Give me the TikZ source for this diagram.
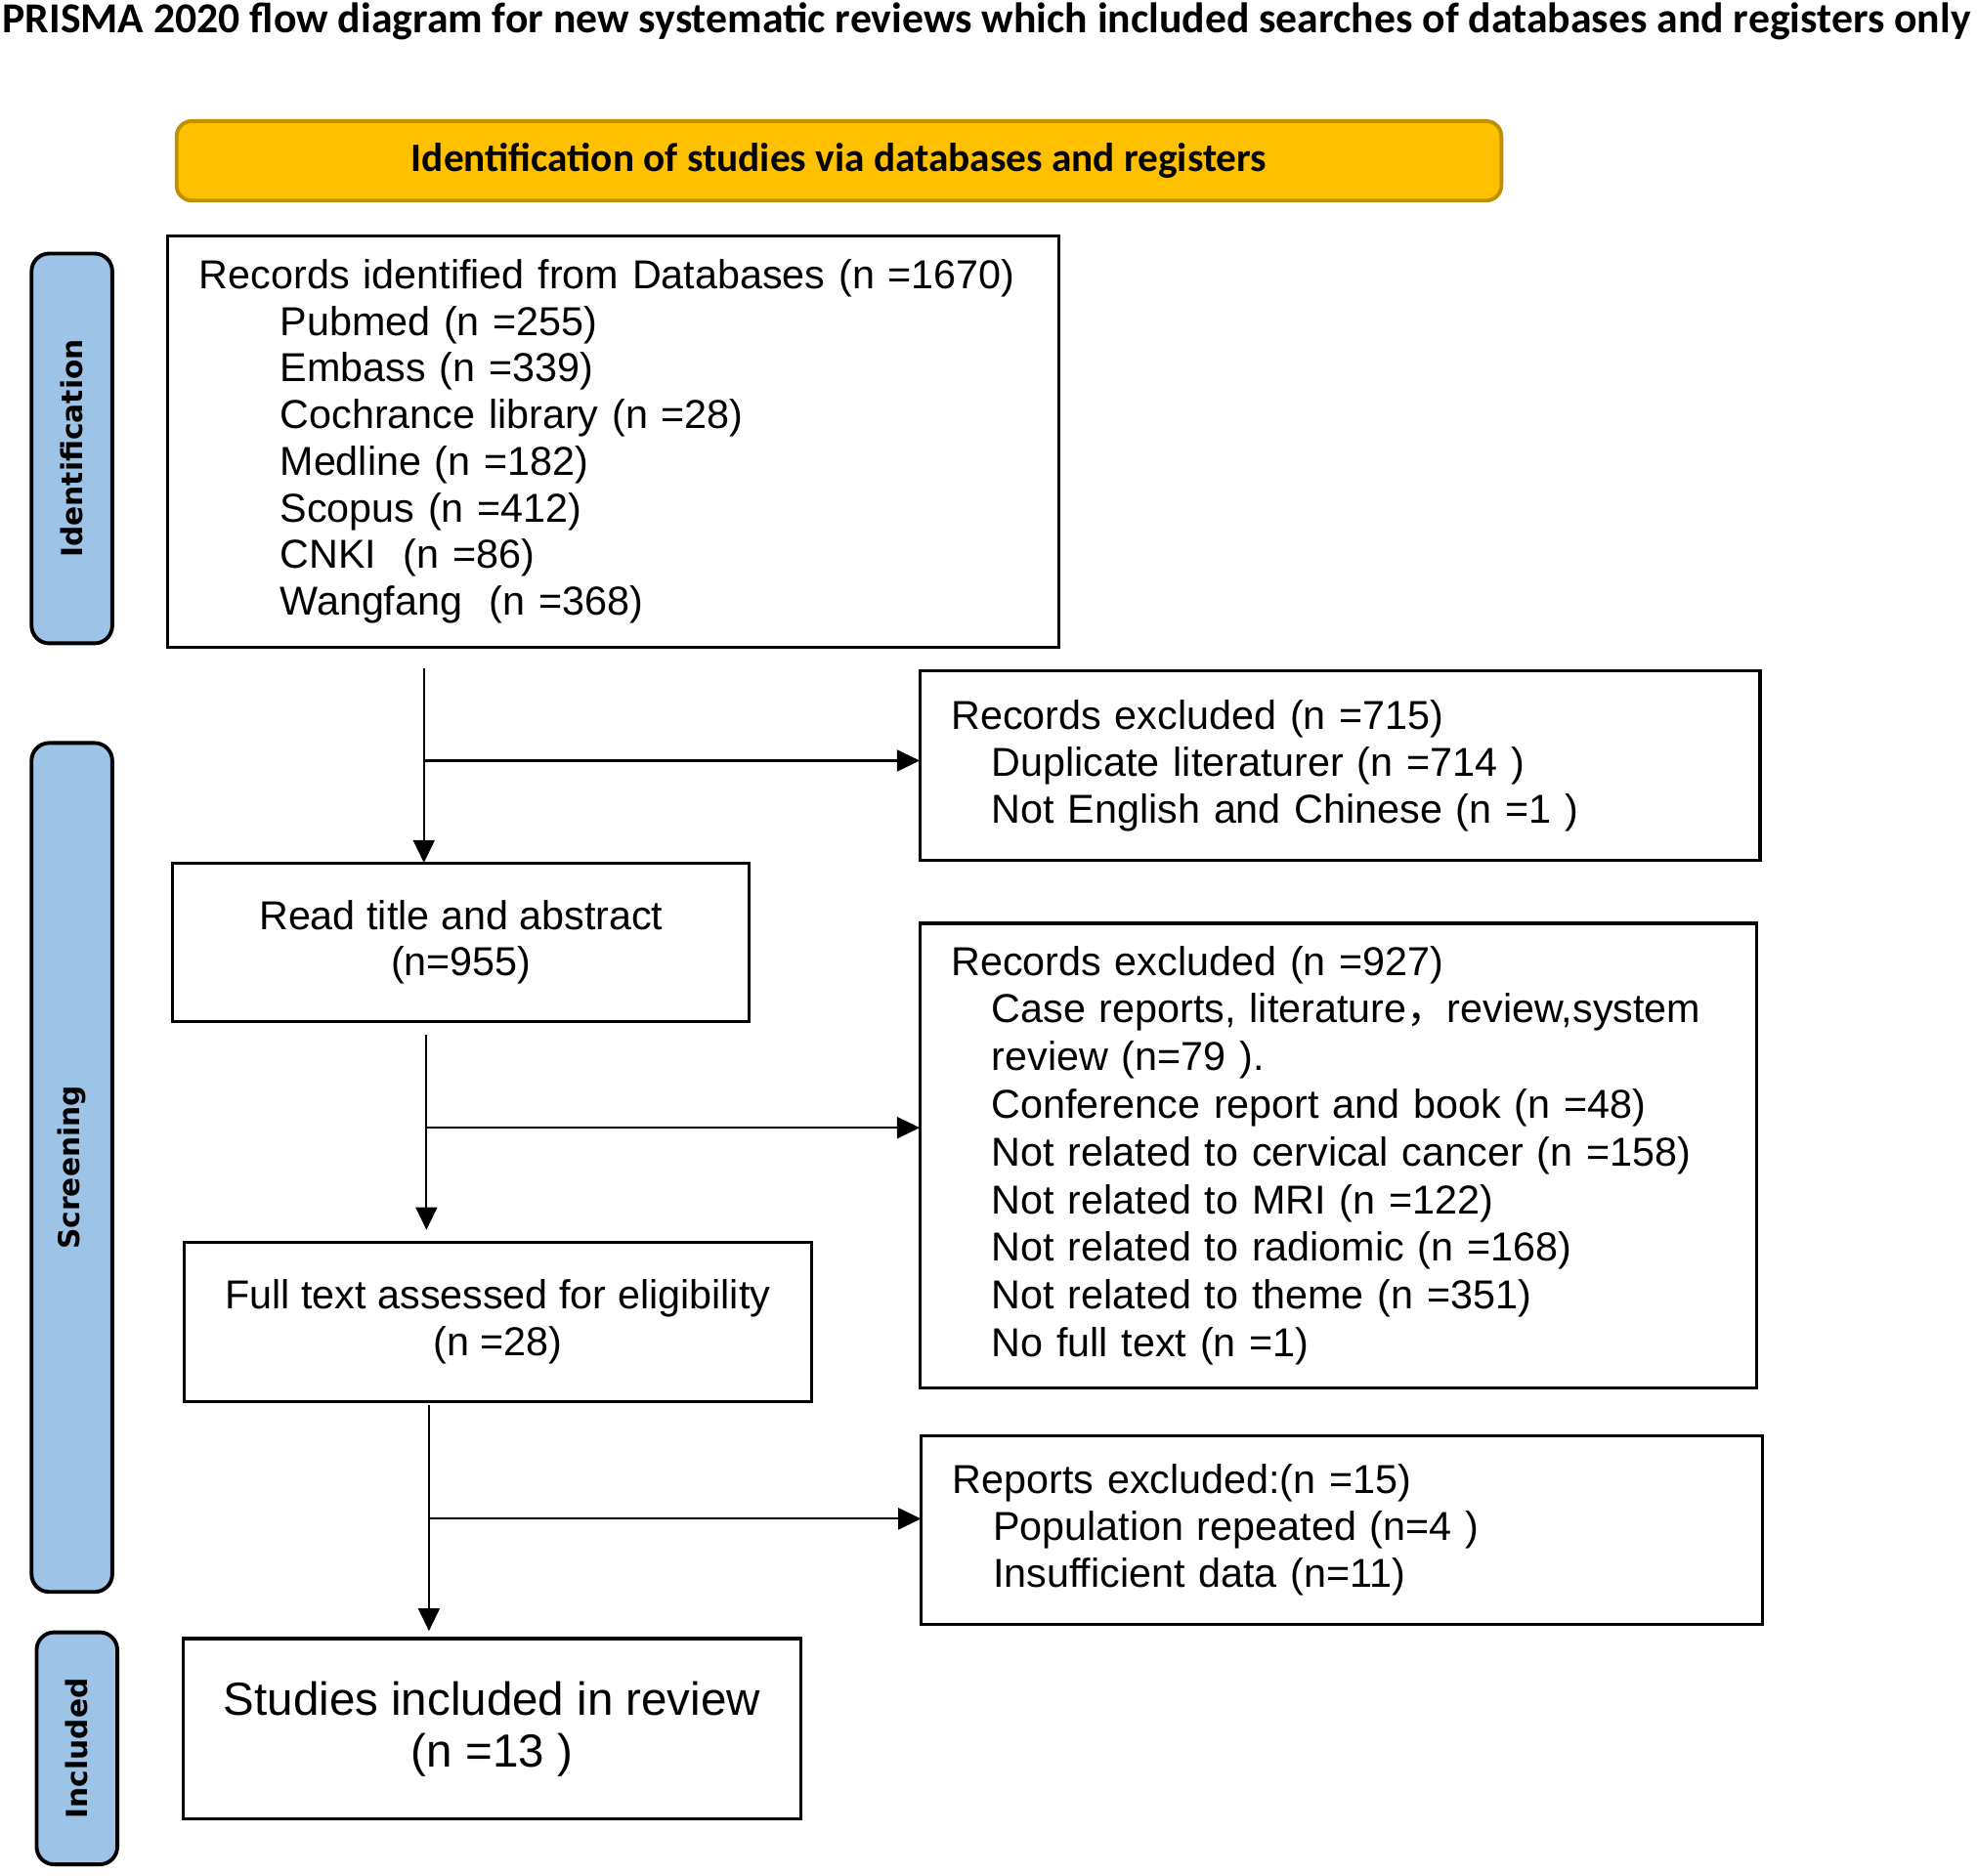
\documentclass[tikz,border=0pt]{standalone}
\usepackage{fontspec}
\setmainfont{Liberation Sans}
\newfontfamily\hdrfont{Carlito}
\newfontfamily\sidefont{DejaVu Sans}
\newfontfamily\cjk{Noto Sans CJK SC}
\usetikzlibrary{arrows.meta,calc}
\definecolor{hdryellow}{HTML}{FFC000}
\definecolor{hdrborder}{HTML}{BF9000}
\definecolor{sideblue}{HTML}{9DC3E6}
\begin{document}
\begin{tikzpicture}[x=0.5pt,y=-0.5pt,
  box/.style={draw=black,line width=1.2pt,anchor=north west,outer sep=0pt,inner ysep=0pt,
    font=\fontsize{16pt}{18.5pt}\selectfont},
  lbox/.style={box,inner xsep=12.5pt,align=left},
  cbox/.style={box,inner xsep=0pt,align=center},
  sidebox/.style={draw=black,line width=1.5pt,fill=sideblue,rounded corners=7pt,anchor=north west,
    outer sep=0pt,inner sep=0pt},
  sidelabel/.style={rotate=90,font=\sidefont\bfseries\fontsize{11.5pt}{13pt}\selectfont},
  arr/.style={-{Triangle[width=8.5pt,length=9pt]},line width=0.8pt},
]
\useasboundingbox (0,0) rectangle (1567,1487);

% title
\node (title) at (782,17) {\resizebox{780pt}{!}{\hdrfont\bfseries PRISMA 2020 flow diagram for new systematic reviews which included searches of databases and registers only}};

% header
\node[draw=hdrborder,fill=hdryellow,line width=1.5pt,rounded corners=6pt,anchor=north west,
  minimum width=525pt,minimum height=31.5pt,inner sep=0pt,outer sep=0pt] (hdr) at (140,96)
  {\resizebox{339pt}{!}{\hdrfont\bfseries Identification of studies via databases and registers}};

% side labels
\node[sidebox,minimum width=32pt,minimum height=154.5pt] (sid) at (25,201) {};
\node[sidelabel] (sidt) at (sid.center) {Identification};
\node[sidebox,minimum width=32pt,minimum height=336.5pt] (sscr) at (25,589) {};
\node[sidelabel] (sscrt) at (sscr.center) {Screening};
\node[sidebox,minimum width=32pt,minimum height=92pt] (sinc) at (29,1294) {};
\node[sidelabel] (sinct) at (sinc.center) {Included};

% main boxes
\node[lbox,minimum width=353pt,minimum height=163pt,text width=328pt] (rec) at (133,187)
  {Records identified from Databases (n =1670)\\
   \hspace*{32pt}Pubmed (n =255)\\
   \hspace*{32pt}Embass (n =339)\\
   \hspace*{32pt}Cochrance library (n =28)\\
   \hspace*{32pt}Medline (n =182)\\
   \hspace*{32pt}Scopus (n =412)\\
   \hspace*{32pt}CNKI\ \ (n =86)\\
   \hspace*{32pt}Wangfang\ \ (n =368)};

\node[lbox,minimum width=333pt,minimum height=75pt,text width=308pt] (ex1) at (729,532)
  {Records excluded (n =715)\\
   \hspace*{16pt}Duplicate literaturer (n =714 )\\
   \hspace*{16pt}Not English and Chinese (n =1 )};

\node[cbox,minimum width=228.5pt,minimum height=63pt] (rta) at (137,684)
  {Read title and abstract\\(n=955)};

\node[lbox,minimum width=331.5pt,minimum height=184pt,text width=306.5pt,
  font=\fontsize{16pt}{18.9pt}\selectfont] (ex2) at (729,732)
  {Records excluded (n =927)\\
   \hspace*{16pt}Case reports, literature{\cjk ，}review,system\\
   \hspace*{16pt}review (n=79 ).\\
   \hspace*{16pt}Conference report and book (n =48)\\
   \hspace*{16pt}Not related to cervical cancer (n =158)\\
   \hspace*{16pt}Not related to MRI (n =122)\\
   \hspace*{16pt}Not related to radiomic (n =168)\\
   \hspace*{16pt}Not related to theme (n =351)\\
   \hspace*{16pt}No full text (n =1)};

\node[cbox,minimum width=248.5pt,minimum height=63pt] (full) at (146,985)
  {Full text assessed for eligibility\\(n =28)};

\node[lbox,minimum width=333.5pt,minimum height=75pt,text width=308.5pt] (ex3) at (730,1138)
  {Reports excluded:(n =15)\\
   \hspace*{16pt}Population repeated (n=4 )\\
   \hspace*{16pt}Insufficient data (n=11)\\[11pt]};

\node[cbox,minimum width=245pt,minimum height=71.5pt,
  font=\fontsize{18.4pt}{20.5pt}\selectfont] (inc) at (145,1299)
  {Studies included in review\\(n =13 )};

% connectors
\coordinate (s1) at (336,530);
\coordinate (j1) at (336,603);
\draw[arr] (s1) -- (s1 |- rta.north);
\draw[arr] (j1) -- (j1 -| ex1.west);

\coordinate (s2) at (338,820);
\coordinate (j2) at (338,894);
\draw[arr,shorten >=5pt] (s2) -- (s2 |- full.north);
\draw[arr] (j2) -- (j2 -| ex2.west);

\coordinate (s3) at (340,1114);
\coordinate (j3) at (340,1204);
\draw[arr,shorten >=3pt] (s3) -- (s3 |- inc.north);
\draw[arr] (j3) -- (j3 -| ex3.west);
\end{tikzpicture}
\end{document}
